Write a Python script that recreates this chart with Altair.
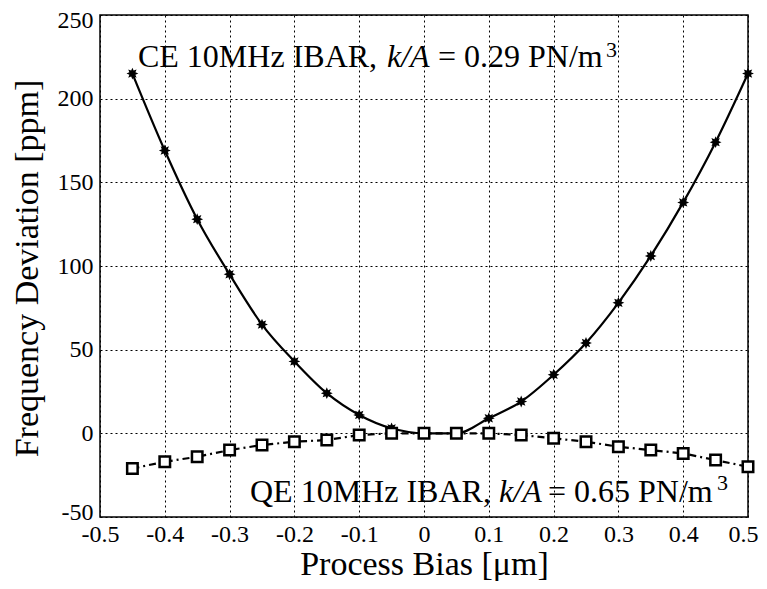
import altair as alt
import pandas as pd

# ---- data ----
bias = [-0.45, -0.40, -0.35, -0.30, -0.25, -0.20, -0.15, -0.10, -0.05, 0.00,
        0.05, 0.10, 0.15, 0.20, 0.25, 0.30, 0.35, 0.40, 0.45, 0.50]
ce_ppm = [215, 169, 128, 95, 65, 43, 24, 11, 3, 0,
          0, 9, 19, 35, 54, 78, 106, 138, 174, 215]
qe_ppm = [-21, -17, -14, -10, -7, -5, -4, -1, 0, 0,
          0, 0, -1, -3, -5, -8, -10, -12, -16, -20]
x_ticks = [-0.5, -0.4, -0.3, -0.2, -0.1, 0.0, 0.1, 0.2, 0.3, 0.4, 0.5]
y_ticks = [-50, 0, 50, 100, 150, 200, 250]

# annotation pieces: text and anchor (data coords)
top_normal = ["CE 10MHz IBAR,", "= 0.29 PN/m"]
top_normal_x = [-0.4414, 0.0216]
top_italic = ["k/A"]
top_italic_x = [-0.0571]
top_y = 219
top_sup_x = 0.2809
top_sup_y = 225

bot_normal = ["QE 10MHz IBAR,", "= 0.65 PN/m"]
bot_normal_x = [-0.2685, 0.1913]
bot_italic = ["k/A"]
bot_italic_x = [0.1158]
bot_y = -41
bot_sup_x = 0.4522
bot_sup_y = -34

FONT = "Liberation Serif"
STAR = ("M1,0 L0.508,0.21 L0.707,0.707 L0.21,0.508 L0,1 L-0.21,0.508 "
        "L-0.707,0.707 L-0.508,0.21 L-1,0 L-0.508,-0.21 L-0.707,-0.707 "
        "L-0.21,-0.508 L0,-1 L0.21,-0.508 L0.707,-0.707 L0.508,-0.21 Z")

ce_df = pd.DataFrame({"bias": bias, "ppm": ce_ppm})
qe_df = pd.DataFrame({"bias": bias, "ppm": qe_ppm})

normal_df = pd.DataFrame({
    "txt": top_normal + bot_normal,
    "bias": top_normal_x + bot_normal_x,
    "ppm": [top_y] * len(top_normal) + [bot_y] * len(bot_normal),
})
italic_df = pd.DataFrame({
    "txt": top_italic + bot_italic,
    "bias": top_italic_x + bot_italic_x,
    "ppm": [top_y] * len(top_italic) + [bot_y] * len(bot_italic),
})
sup_df = pd.DataFrame({
    "txt": ["3", "3"],
    "bias": [top_sup_x, bot_sup_x],
    "ppm": [top_sup_y, bot_sup_y],
})

x_enc = alt.X(
    "bias:Q",
    scale=alt.Scale(domain=[-0.5, 0.5], nice=False, zero=False),
    axis=alt.Axis(
        values=x_ticks,
        title="Process Bias [μm]",
        labelExpr="datum.value == 0 ? '0' : toString(round(datum.value*10)/10)",
        labelPadding=5,
        labelFlush=False,
        labelOffset={"condition": {"test": "datum.value > 0.45", "value": -5}, "value": 0},
        titleX=324,
        titleY=57,
        titleBaseline="alphabetic",
    ),
)
y_enc = alt.Y(
    "ppm:Q",
    scale=alt.Scale(domain=[-50, 250], nice=False, zero=False),
    axis=alt.Axis(
        values=y_ticks,
        title="Frequency Deviation [ppm]",
        labelExpr="toString(datum.value)",
        labelPadding=7,
        labelFlush=True,
        labelFlushOffset=7,
        titleX=-63,
        titleY=253,
        titleAngle=-90,
        titleAlign="center",
        titleBaseline="alphabetic",
    ),
)

ce_line = alt.Chart(ce_df).mark_line(
    color="black", strokeWidth=2.2, interpolate="monotone"
).encode(x=x_enc, y=y_enc)
ce_pts = alt.Chart(ce_df).mark_point(
    shape=STAR, filled=True, color="black", size=140, opacity=1
).encode(x=x_enc, y=y_enc)

qe_line = alt.Chart(qe_df).mark_line(
    color="black", strokeWidth=2.2, strokeDash=[7, 4, 2, 4]
).encode(x=x_enc, y=y_enc)
qe_pts = alt.Chart(qe_df).mark_point(
    shape="square", filled=True, fill="white", stroke="black",
    strokeWidth=2.5, size=110, opacity=1
).encode(x=x_enc, y=y_enc)

txt_normal = alt.Chart(normal_df).mark_text(
    font=FONT, fontSize=32, align="left", baseline="alphabetic", color="black"
).encode(x=x_enc, y=y_enc, text="txt:N")
txt_italic = alt.Chart(italic_df).mark_text(
    font=FONT, fontSize=32, fontStyle="italic", align="left",
    baseline="alphabetic", color="black"
).encode(x=x_enc, y=y_enc, text="txt:N")
txt_sup = alt.Chart(sup_df).mark_text(
    font=FONT, fontSize=22, align="left", baseline="alphabetic", color="black"
).encode(x=x_enc, y=y_enc, text="txt:N")

chart = alt.layer(
    ce_line, ce_pts, qe_line, qe_pts, txt_normal, txt_italic, txt_sup
).properties(
    width=648,
    height=502,
    autosize=alt.AutoSizeParams(type="none"),
    padding={"left": 92, "top": 7, "right": 11, "bottom": 64},
    background="white",
).configure_view(
    stroke="black", strokeWidth=1.5
).configure_axis(
    grid=True,
    gridColor="black",
    gridDash=[2, 3],
    gridWidth=1,
    gridOpacity=1,
    domain=False,
    ticks=False,
    labelFont=FONT,
    labelFontSize=24,
    labelColor="black",
    titleFont=FONT,
    titleFontSize=34,
    titleFontWeight="normal",
    titleColor="black",
)

chart.save("out.html", embed_options={"renderer": "svg", "actions": False})
